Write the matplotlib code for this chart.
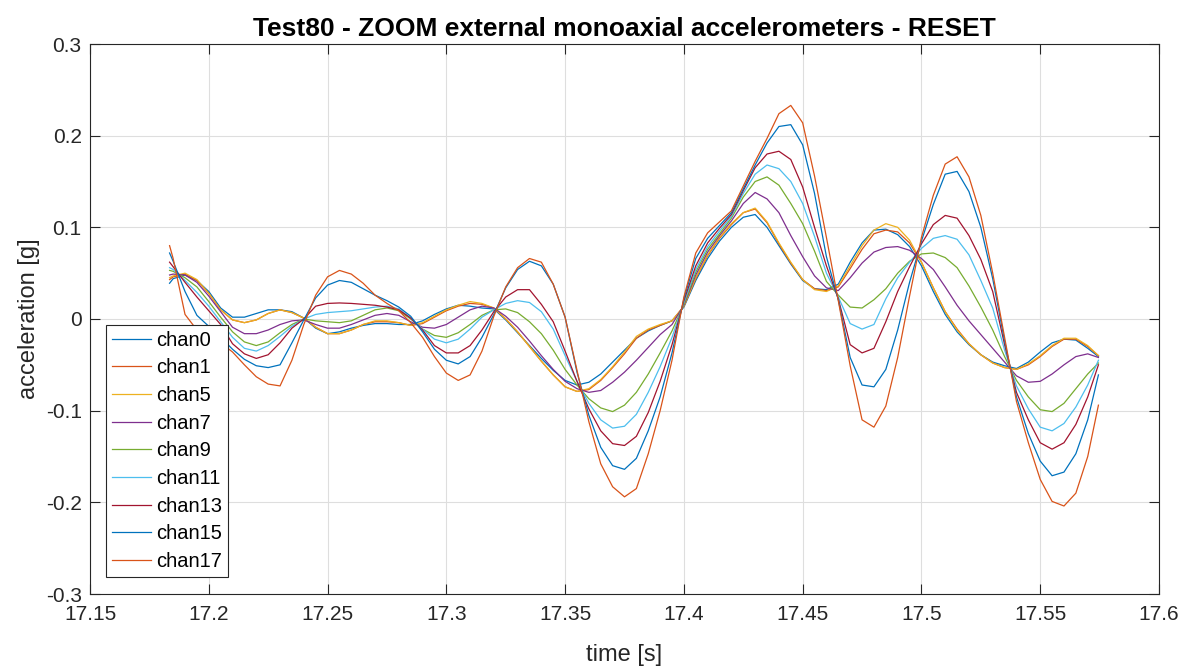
import numpy as np
import matplotlib
matplotlib.use("Agg")
import matplotlib.pyplot as plt

plt.rcParams['font.family'] = ['Liberation Sans', 'DejaVu Sans']
plt.rcParams['axes.unicode_minus'] = False

# time axis (s): first sample, 5 ms grid, last sample
time = [17.1835] + [round(17.185 + 0.005 * k, 3) for k in range(78)] + [17.5745]

chan0 = [0.039, 0.044, 0.048, 0.042, 0.030, 0.012, 0.002, 0.002, 0.006, 0.010,
         0.010, 0.008, 0.001, -0.010, -0.016, -0.014, -0.010, -0.007, -0.005, -0.005,
         -0.006, -0.006, -0.002, 0.005, 0.011, 0.015, 0.014, 0.012, 0.011, -0.001,
         -0.015, -0.029, -0.043, -0.056, -0.067, -0.072, -0.069, -0.060, -0.047, -0.034,
         -0.021, -0.013, -0.007, -0.002, 0.013, 0.042, 0.066, 0.085, 0.100, 0.111,
         0.114, 0.100, 0.080, 0.060, 0.042, 0.033, 0.032, 0.038, 0.062, 0.083,
         0.097, 0.098, 0.092, 0.079, 0.058, 0.030, 0.005, -0.014, -0.028, -0.039,
         -0.047, -0.051, -0.054, -0.047, -0.036, -0.026, -0.022, -0.023, -0.032, -0.041]

chan1 = [0.043, 0.046, 0.049, 0.042, 0.028, 0.010, -0.001, -0.004, -0.001, 0.006,
         0.010, 0.007, 0.001, -0.009, -0.016, -0.016, -0.012, -0.006, -0.003, -0.003,
         -0.004, -0.007, -0.005, 0.002, 0.009, 0.014, 0.017, 0.016, 0.012, 0.000,
         -0.014, -0.030, -0.046, -0.061, -0.074, -0.079, -0.077, -0.067, -0.053, -0.038,
         -0.021, -0.012, -0.007, -0.002, 0.014, 0.044, 0.069, 0.088, 0.103, 0.116,
         0.120, 0.105, 0.082, 0.061, 0.043, 0.033, 0.031, 0.035, 0.055, 0.076,
         0.093, 0.097, 0.095, 0.083, 0.062, 0.034, 0.008, -0.011, -0.027, -0.039,
         -0.048, -0.053, -0.055, -0.050, -0.041, -0.030, -0.022, -0.022, -0.030, -0.040]

chan5 = [0.045, 0.047, 0.050, 0.043, 0.028, 0.010, -0.001, -0.004, -0.001, 0.006,
         0.010, 0.007, 0.001, -0.009, -0.016, -0.016, -0.012, -0.006, -0.002, -0.002,
         -0.004, -0.007, -0.004, 0.003, 0.010, 0.015, 0.019, 0.017, 0.012, 0.000,
         -0.014, -0.030, -0.046, -0.061, -0.074, -0.079, -0.076, -0.066, -0.052, -0.036,
         -0.019, -0.011, -0.006, -0.002, 0.014, 0.045, 0.070, 0.089, 0.104, 0.116,
         0.121, 0.106, 0.083, 0.062, 0.043, 0.032, 0.030, 0.036, 0.058, 0.080,
         0.097, 0.104, 0.100, 0.086, 0.062, 0.034, 0.008, -0.012, -0.027, -0.039,
         -0.048, -0.053, -0.055, -0.049, -0.040, -0.029, -0.021, -0.021, -0.029, -0.040]

chan7 = [0.048, 0.049, 0.048, 0.040, 0.025, 0.008, -0.009, -0.016, -0.016, -0.012,
         -0.006, -0.002, -0.001, -0.006, -0.010, -0.010, -0.006, -0.001, 0.004, 0.006,
         0.004, -0.003, -0.009, -0.010, -0.006, 0.002, 0.010, 0.014, 0.012, 0.003,
         -0.009, -0.024, -0.040, -0.055, -0.068, -0.076, -0.080, -0.078, -0.069, -0.058,
         -0.045, -0.031, -0.017, -0.006, 0.015, 0.048, 0.073, 0.091, 0.107, 0.126,
         0.138, 0.131, 0.116, 0.091, 0.068, 0.047, 0.034, 0.031, 0.045, 0.061,
         0.073, 0.078, 0.079, 0.075, 0.066, 0.054, 0.035, 0.015, -0.002, -0.017,
         -0.032, -0.047, -0.062, -0.069, -0.068, -0.060, -0.050, -0.041, -0.038, -0.042]

chan9 = [0.053, 0.052, 0.045, 0.035, 0.019, 0.002, -0.014, -0.025, -0.029, -0.025,
         -0.015, -0.006, 0.000, -0.002, -0.003, -0.004, -0.002, 0.004, 0.010, 0.012,
         0.009, 0.000, -0.011, -0.018, -0.020, -0.015, -0.006, 0.004, 0.010, 0.011,
         0.007, -0.003, -0.016, -0.034, -0.055, -0.072, -0.087, -0.097, -0.101, -0.094,
         -0.080, -0.060, -0.037, -0.013, 0.016, 0.051, 0.076, 0.093, 0.110, 0.133,
         0.150, 0.155, 0.146, 0.126, 0.104, 0.074, 0.041, 0.026, 0.013, 0.012,
         0.021, 0.033, 0.050, 0.063, 0.071, 0.072, 0.067, 0.056, 0.036, 0.013,
         -0.012, -0.041, -0.067, -0.085, -0.099, -0.101, -0.092, -0.076, -0.060, -0.048]

chan11 = [0.056, 0.054, 0.042, 0.029, 0.014, -0.003, -0.020, -0.032, -0.035, -0.029,
          -0.019, -0.008, 0.000, 0.005, 0.007, 0.008, 0.009, 0.011, 0.013, 0.014,
          0.011, 0.001, -0.011, -0.022, -0.026, -0.022, -0.011, 0.002, 0.010, 0.017,
          0.020, 0.018, 0.008, -0.011, -0.040, -0.068, -0.092, -0.110, -0.119, -0.117,
          -0.104, -0.080, -0.052, -0.020, 0.018, 0.054, 0.079, 0.096, 0.112, 0.137,
          0.158, 0.168, 0.164, 0.150, 0.126, 0.090, 0.050, 0.024, -0.005, -0.011,
          -0.006, 0.022, 0.045, 0.062, 0.077, 0.088, 0.091, 0.087, 0.070, 0.042,
          0.012, -0.034, -0.073, -0.098, -0.118, -0.122, -0.114, -0.096, -0.072, -0.045]

chan13 = [0.062, 0.057, 0.040, 0.024, 0.009, -0.006, -0.027, -0.038, -0.043, -0.039,
          -0.026, -0.010, 0.000, 0.014, 0.017, 0.0175, 0.017, 0.016, 0.015, 0.013,
          0.010, 0.001, -0.012, -0.029, -0.037, -0.037, -0.029, -0.012, 0.008, 0.024,
          0.032, 0.032, 0.016, -0.003, -0.035, -0.068, -0.098, -0.122, -0.136, -0.138,
          -0.128, -0.102, -0.068, -0.028, 0.020, 0.058, 0.083, 0.099, 0.114, 0.140,
          0.165, 0.180, 0.183, 0.174, 0.144, 0.100, 0.058, 0.022, -0.028, -0.037,
          -0.032, -0.003, 0.030, 0.057, 0.082, 0.103, 0.113, 0.110, 0.091, 0.065,
          0.030, -0.028, -0.080, -0.110, -0.135, -0.142, -0.135, -0.115, -0.085, -0.050]

chan15 = [0.072, 0.063, 0.030, 0.004, -0.008, -0.020, -0.033, -0.044, -0.051, -0.053,
          -0.050, -0.026, -0.001, 0.023, 0.037, 0.042, 0.040, 0.033, 0.026, 0.020,
          0.013, 0.003, -0.014, -0.033, -0.045, -0.049, -0.041, -0.020, 0.005, 0.034,
          0.054, 0.063, 0.058, 0.038, 0.002, -0.058, -0.105, -0.140, -0.160, -0.164,
          -0.152, -0.122, -0.085, -0.037, 0.022, 0.066, 0.088, 0.102, 0.116, 0.142,
          0.168, 0.192, 0.210, 0.212, 0.190, 0.137, 0.068, 0.021, -0.042, -0.072,
          -0.074, -0.055, -0.012, 0.040, 0.085, 0.125, 0.158, 0.161, 0.139, 0.100,
          0.044, -0.024, -0.085, -0.125, -0.155, -0.171, -0.167, -0.147, -0.110, -0.061]

chan17 = [0.080, 0.066, 0.005, -0.012, -0.020, -0.026, -0.036, -0.050, -0.063, -0.071,
          -0.073, -0.045, -0.006, 0.026, 0.046, 0.053, 0.049, 0.039, 0.026, 0.017,
          0.009, -0.004, -0.020, -0.041, -0.059, -0.067, -0.061, -0.035, 0.003, 0.035,
          0.056, 0.066, 0.062, 0.038, 0.002, -0.056, -0.112, -0.158, -0.183, -0.194,
          -0.185, -0.147, -0.100, -0.045, 0.024, 0.072, 0.094, 0.106, 0.118, 0.145,
          0.172, 0.197, 0.224, 0.233, 0.214, 0.156, 0.089, 0.020, -0.051, -0.110,
          -0.118, -0.095, -0.042, 0.025, 0.089, 0.135, 0.169, 0.177, 0.155, 0.113,
          0.050, -0.020, -0.090, -0.135, -0.175, -0.199, -0.204, -0.190, -0.150, -0.094]

labels = ["chan0", "chan1", "chan5", "chan7", "chan9", "chan11", "chan13", "chan15", "chan17"]
series = [chan0, chan1, chan5, chan7, chan9, chan11, chan13, chan15, chan17]

xticks = [17.15, 17.2, 17.25, 17.3, 17.35, 17.4, 17.45, 17.5, 17.55, 17.6]
xticklabels = ["17.15", "17.2", "17.25", "17.3", "17.35", "17.4", "17.45", "17.5", "17.55", "17.6"]
yticks = [-0.3, -0.2, -0.1, 0, 0.1, 0.2, 0.3]
yticklabels = ["-0.3", "-0.2", "-0.1", "0", "0.1", "0.2", "0.3"]

matlab_colors = ["#0072BD", "#D95319", "#EDB120", "#7E2F8E", "#77AC30", "#4DBEEE", "#A2142F"]

fig = plt.figure(figsize=(11.87, 6.70), dpi=100)
ax = fig.add_axes([90 / 1187, 76 / 670, 1069 / 1187, 550 / 670])

for i, (lab, s) in enumerate(zip(labels, series)):
    ax.plot(time, s, color=matlab_colors[i % 7], lw=0.9, label=lab)

ax.set_xlim(17.15, 17.6)
ax.set_ylim(-0.3, 0.3)
ax.set_xticks(xticks)
ax.set_xticklabels(xticklabels)
ax.set_yticks(yticks)
ax.set_yticklabels(yticklabels)

ax.grid(True, color="#dedede", lw=0.8)
ax.set_axisbelow(True)
for sp in ax.spines.values():
    sp.set_color("#262626")
    sp.set_linewidth(0.8)
ax.tick_params(direction="in", length=7, width=0.8, color="#262626",
               top=True, right=True, labelsize=15, labelcolor="#262626")
ax.tick_params(axis="x", pad=8)
ax.tick_params(axis="y", pad=6)

ax.set_xlabel("time [s]", fontsize=17, color="#262626", labelpad=14)
ax.set_ylabel("acceleration [g]", fontsize=17, color="#262626", labelpad=4)
ax.set_title("Test80 - ZOOM external monoaxial accelerometers - RESET",
             fontsize=19, fontweight="bold", color="black", pad=6)

leg = ax.legend(loc="lower left", bbox_to_anchor=(0.0153, 0.031), borderaxespad=0,
                fontsize=14.5, frameon=True, fancybox=False, framealpha=1,
                edgecolor="#262626", handlelength=1.9, handletextpad=0.25,
                labelspacing=0.43, borderpad=0.3)
leg.get_frame().set_linewidth(0.8)

fig.savefig("out.png", dpi=100)
